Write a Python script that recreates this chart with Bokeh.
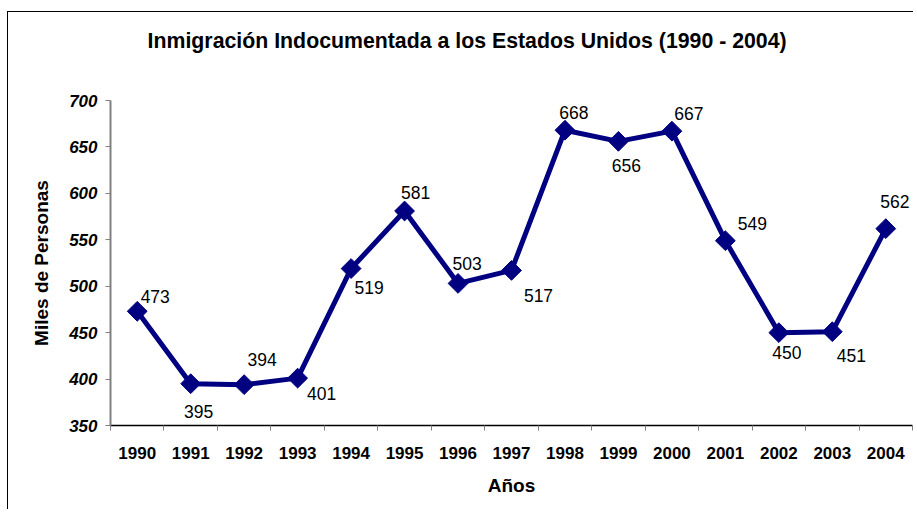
import math
from bokeh.plotting import figure
from bokeh.models import FixedTicker, Range1d, ColumnDataSource, LinearAxis
from bokeh.embed import file_html
from bokeh.resources import INLINE
from bokeh.core.properties import value

# ---- data ----
years = [1990, 1991, 1992, 1993, 1994, 1995, 1996, 1997, 1998, 1999, 2000, 2001, 2002, 2003, 2004]
immigrants = [473, 395, 394, 401, 519, 581, 503, 517, 668, 656, 667, 549, 450, 451, 562]
y_ticks = [350, 400, 450, 500, 550, 600, 650, 700]
title_text = "Inmigración Indocumentada a los Estados Unidos (1990 - 2004)"
x_label = "Años"
y_label = "Miles de Personas"

# label placement (screen px offsets relative to each point)
label_dx = [18, 8, 18, 24, 18, 11, 9, 27, 9, 8, 17, 27, 8, 19, 9]
label_dy = [-15, 28, -25, 15, 19, -19, -20, 25, -18, 24, -18, -17, 20, 24, -27]

FONT = "Liberation Sans"
NAVY = "#000080"

src = ColumnDataSource(dict(x=years, y=immigrants, t=[str(v) for v in immigrants],
                            dx=label_dx, dy=label_dy))

p = figure(width=906, height=498, output_backend="svg", toolbar_location=None,
           x_range=Range1d(years[0] - 0.5, years[-1] + 0.5),
           y_range=Range1d(y_ticks[0], y_ticks[-1]),
           min_border_left=102, min_border_right=2, min_border_top=88, min_border_bottom=85)

p.styles = {"border-top": "1px solid black", "border-left": "1px solid black",
            "margin-top": "11px", "margin-left": "7px"}

p.xgrid.visible = False
p.ygrid.visible = False
p.outline_line_color = None
p.background_fill_color = "white"
p.border_fill_color = "white"

# title, drawn as the label of a bare axis above the frame
# (trailing no-break spaces shift the centred text to the left, as in the original)
title_axis = LinearAxis(ticker=FixedTicker(ticks=[]),
                        axis_label=title_text + "\u00a0" * 15,
                        axis_line_color=None,
                        major_tick_line_color=None, minor_tick_line_color=None,
                        major_tick_out=0, major_tick_in=0,
                        minor_tick_out=0, minor_tick_in=0,
                        major_label_standoff=0,
                        axis_label_standoff=48,
                        axis_label_text_font=FONT,
                        axis_label_text_font_size="21.3px",
                        axis_label_text_font_style="bold",
                        axis_label_text_color="black")
p.add_layout(title_axis, "above")

# x axis
xa = p.below[0]
xa.ticker = FixedTicker(ticks=years, minor_ticks=[y - 0.5 for y in years] + [years[-1] + 0.5])
xa.major_label_overrides = {y: str(y) for y in years}
xa.major_tick_out = 0
xa.major_tick_in = 0
xa.minor_tick_out = 5
xa.minor_tick_in = 0
xa.minor_tick_line_color = "#808080"
xa.axis_line_color = "black"
xa.axis_line_width = 1.5
xa.major_label_text_font = FONT
xa.major_label_text_font_size = "17px"
xa.major_label_text_font_style = "bold"
xa.major_label_text_color = "black"
xa.major_label_standoff = 16
xa.axis_label = x_label
xa.axis_label_text_font = FONT
xa.axis_label_text_font_size = "19px"
xa.axis_label_text_font_style = "bold"
xa.axis_label_text_color = "black"
xa.axis_label_standoff = 13

# y axis
ya = p.yaxis[0]
ya.ticker = FixedTicker(ticks=y_ticks)
ya.major_tick_out = 5
ya.major_tick_in = 0
ya.major_tick_line_color = "#808080"
ya.minor_tick_line_color = None
ya.axis_line_color = "#808080"
ya.axis_line_width = 2
ya.major_label_text_font = FONT
ya.major_label_text_font_size = "17px"
ya.major_label_text_font_style = "bold italic"
ya.major_label_text_color = "black"
ya.major_label_standoff = 8
ya.axis_label = y_label
ya.axis_label_text_font = FONT
ya.axis_label_text_font_size = "19px"
ya.axis_label_text_font_style = "bold"
ya.axis_label_text_color = "black"
ya.axis_label_standoff = 14

# series
p.line("x", "y", source=src, line_color=NAVY, line_width=5)
p.scatter("x", "y", source=src, marker="square", angle=math.pi / 4, size=14,
          fill_color=NAVY, line_color=NAVY)
p.text("x", "y", text="t", source=src, x_offset="dx", y_offset="dy",
       text_align="center", text_baseline="middle",
       text_font=value(FONT), text_font_size="17.5px", text_color="black")

open("out.html", "w").write(file_html(p, INLINE))
